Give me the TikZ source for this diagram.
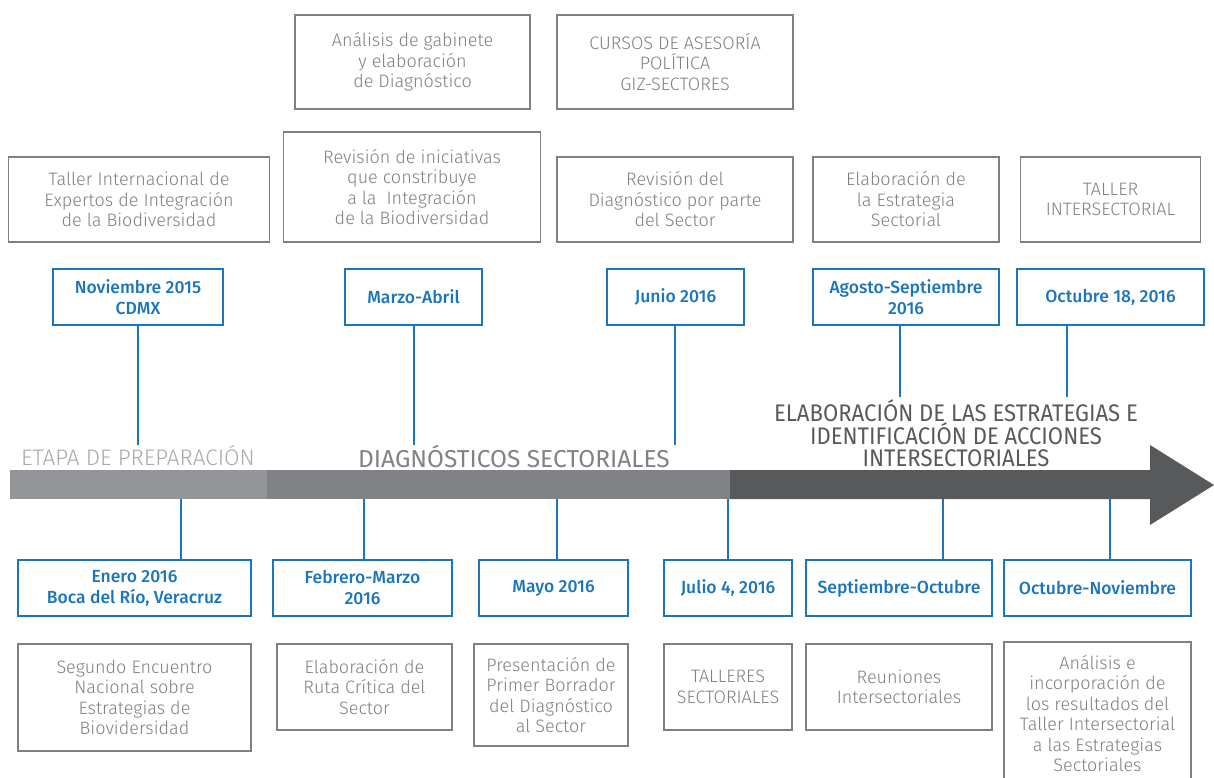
\documentclass[tikz,border=0pt]{standalone}
\usepackage{fontspec}
\setmainfont{Fira Sans}[UprightFont={* Light}, BoldFont={* Medium}]
\newfontfamily\phasefont{Fira Sans}
\newfontfamily\narrowfont{Fira Sans}[FakeStretch=0.92]
\usetikzlibrary{calc}

\definecolor{dateblue}{HTML}{1B75BC}
\definecolor{boxgray}{HTML}{7F8083}
\definecolor{txtgray}{HTML}{7D7F82}
\definecolor{phaseA}{HTML}{939598}
\definecolor{phaseB}{HTML}{808285}
\definecolor{phaseC}{HTML}{58595B}
\definecolor{labelA}{HTML}{A7A9AC}

\begin{document}
\begin{tikzpicture}[x=1pt, y=-1pt,
	every node/.style={inner sep=0pt, align=center},
	task/.style={draw=boxgray, line width=1.1pt, text=txtgray, font=\fontsize{18}{20.5}\selectfont},
	datebox/.style={draw=dateblue, line width=1.5pt, text=dateblue, font=\bfseries\fontsize{17.5}{21}\selectfont, minimum height=56},
	tick/.style={dateblue, line width=1.4pt}]
	% --- 1. SETUP ---
	\useasboundingbox (0,0) rectangle (1214,778);
	
	% Ends of the ticks above the bar
	\coordinate (c-nov) at (138, 445);
	\coordinate (c-marzo) at (414, 445);
	\coordinate (c-junio) at (675, 445);
	\coordinate (c-agosto) at (900, 397);
	\coordinate (c-oct) at (1067, 397);
	
	% Ends of the ticks below the bar
	\coordinate (b-enero) at (181, 499);
	\coordinate (b-feb) at (364, 499);
	\coordinate (b-mayo) at (557, 499);
	\coordinate (b-julio) at (728, 499);
	\coordinate (b-sept) at (943, 499);
	\coordinate (b-octnov) at (1110, 499);
	
	% --- 2. TIMELINE BAR ---
	\fill[phaseA] (10, 470) rectangle (267, 499);
	\fill[phaseB] (267, 470) rectangle (730, 499);
	\fill[phaseC] (730, 470) -- (1150, 470) -- (1150, 445) -- (1214, 485)
		-- (1150, 525) -- (1150, 499) -- (730, 499) -- cycle;
	
	\node[text=labelA, font=\fontsize{22.5}{22}\selectfont] (etapa) at (138, 456) {ETAPA DE PREPARACIÓN};
	\node[text=phaseB, font=\phasefont\fontsize{24.5}{22}\selectfont] (diag) at (514, 456) {DIAGNÓSTICOS SECTORIALES};
	\node[text=phaseC, font=\narrowfont\fontsize{24}{22}\selectfont] (elab) at (956, 433) {ELABORACIÓN DE LAS ESTRATEGIAS E\\IDENTIFICACIÓN DE ACCIONES\\INTERSECTORIALES};
	
	% --- 3. UPPER ROW ---
	\node[task, minimum width=235, minimum height=94] (gabinete) at (412.5, 62) {Análisis de gabinete\\y elaboración\\de Diagnóstico};
	\node[task, minimum width=236, minimum height=94] (cursos) at (675, 62) {CURSOS DE ASESORÍA\\POLÍTICA\\GIZ-SECTORES};
	
	\node[task, minimum width=261, minimum height=85] (taller) at (139, 199.5) {Taller Internacional de\\Expertos de Integración\\de la Biodiversidad};
	\node[task, minimum width=257, minimum height=110] (iniciativas) at (412, 187) {Revisión de iniciativas\\que constribuye\\a la~ Integración\\de la Biodiversidad};
	\node[task, minimum width=236, minimum height=85] (revision) at (675, 199.5) {Revisión del\\Diagnóstico por parte\\del Sector};
	\node[task, minimum width=186, minimum height=85] (estrategia) at (906, 199.5) {Elaboración de\\la Estrategia\\Sectorial};
	\node[task, minimum width=180, minimum height=85] (intersec) at (1110.5, 199.5) {TALLER\\INTERSECTORIAL};
	
	\node[datebox, minimum width=170] (nov) at (138, 297) {Noviembre 2015\\CDMX};
	\node[datebox, minimum width=137] (marzo) at (413.5, 297) {Marzo-Abril};
	\node[datebox, minimum width=137] (junio) at (675.5, 297) {Junio 2016};
	\node[datebox, minimum width=186] (agosto) at (906, 297) {Agosto-Septiembre\\2016};
	\node[datebox, minimum width=187] (oct18) at (1110.5, 297) {Octubre 18, 2016};
	
	% --- 4. LOWER ROW ---
	\node[datebox, minimum width=233] (enero) at (134.5, 588) {Enero 2016\\Boca del Río, Veracruz};
	\node[datebox, minimum width=179] (feb) at (362.5, 588) {Febrero-Marzo\\2016};
	\node[datebox, minimum width=149] (mayo) at (553.5, 588) {Mayo 2016};
	\node[datebox, minimum width=128] (julio) at (728, 588) {Julio 4, 2016};
	\node[datebox, minimum width=186] (sept) at (899, 588) {Septiembre-Octubre};
	\node[datebox, minimum width=187] (octnov) at (1097.5, 588) {Octubre-Noviembre};
	
	\node[task, minimum width=233, minimum height=107] (encuentro) at (134.5, 697.5) {Segundo Encuentro\\Nacional sobre\\Estrategias de\\Biovidersidad};
	\node[task, minimum width=175, minimum height=86] (ruta) at (364.5, 687) {Elaboración de\\Ruta Crítica del\\Sector};
	\node[task, minimum width=154, minimum height=102] (borrador) at (551, 695) {Presentación de\\Primer Borrador\\del Diagnóstico\\al Sector};
	\node[task, minimum width=128, minimum height=86] (talleres) at (728, 687) {TALLERES\\SECTORIALES};
	\node[task, minimum width=186, minimum height=86] (reuniones) at (899, 687) {Reuniones\\Intersectoriales};
	\node[task, minimum width=187, minimum height=143] (resultados) at (1097.5, 713.5) {Análisis e\\incorporación de\\los resultados del\\Taller Intersectorial\\a las Estrategias\\Sectoriales};
	
	% --- 5. TICKS ---
	\draw[tick] (nov.south -| c-nov) -- (c-nov);
	\draw[tick] (marzo.south -| c-marzo) -- (c-marzo);
	\draw[tick] (junio.south -| c-junio) -- (c-junio);
	\draw[tick] (agosto.south -| c-agosto) -- (c-agosto);
	\draw[tick] (oct18.south -| c-oct) -- (c-oct);
	
	\draw[tick] (b-enero) -- (enero.north -| b-enero);
	\draw[tick] (b-feb) -- (feb.north -| b-feb);
	\draw[tick] (b-mayo) -- (mayo.north -| b-mayo);
	\draw[tick] (b-julio) -- (julio.north -| b-julio);
	\draw[tick] (b-sept) -- (sept.north -| b-sept);
	\draw[tick] (b-octnov) -- (octnov.north -| b-octnov);
	
\end{tikzpicture}
\end{document}
